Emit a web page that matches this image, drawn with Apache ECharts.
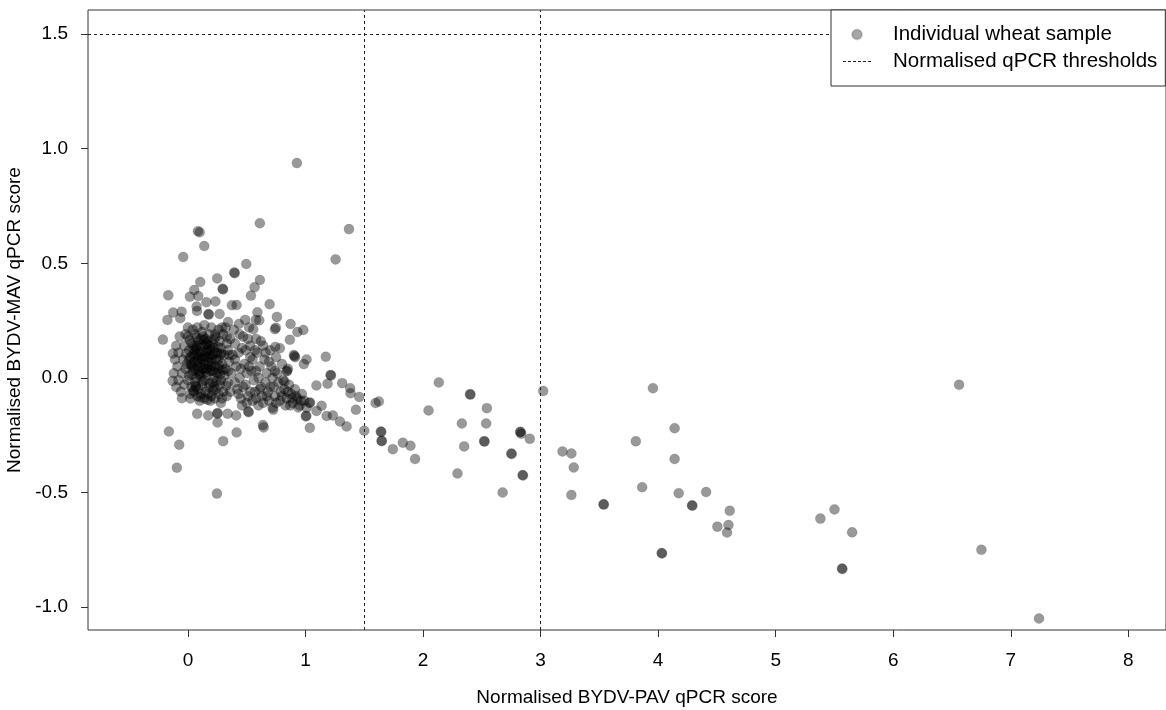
<!DOCTYPE html>
<html><head><meta charset="utf-8">
<script src="https://cdn.jsdelivr.net/npm/echarts@6/dist/echarts.min.js"></script>
<style>html,body{margin:0;padding:0;background:#fff}#c{width:1166px;height:710px}</style>
</head><body><div id="c"></div>
<script>
// [PAV score, MAV score] — dense core of the cluster
const coreSamples = [
[0.00,0.18],[0.03,0.15],[0.06,0.19],[0.09,0.16],[0.12,0.20],[0.15,0.17],[0.18,0.19],[0.21,0.15],[0.24,0.18],[0.27,0.16],[0.30,0.19],[0.33,0.15],
[-0.03,0.14],[0.01,0.12],[0.04,0.10],[0.07,0.13],[0.10,0.11],[0.13,0.14],[0.16,0.12],[0.19,0.10],[0.22,0.13],[0.25,0.11],[0.28,0.13],[0.31,0.10],[0.34,0.12],
[-0.04,0.08],[-0.01,0.06],[0.02,0.09],[0.05,0.07],[0.08,0.05],[0.11,0.08],[0.14,0.06],[0.17,0.09],[0.20,0.07],[0.23,0.05],[0.26,0.08],[0.29,0.06],[0.32,0.04],[0.35,0.07],
[-0.05,0.02],[-0.02,0.04],[0.01,0.01],[0.04,0.03],[0.07,0.00],[0.10,0.02],[0.13,0.04],[0.16,0.01],[0.19,0.03],[0.22,0.00],[0.25,0.02],[0.28,-0.01],[0.31,0.01],[0.34,-0.02],
[-0.03,-0.03],[0.00,-0.01],[0.03,-0.04],[0.06,-0.02],[0.09,-0.05],[0.12,-0.03],[0.15,-0.06],[0.18,-0.04],[0.21,-0.02],[0.24,-0.05],[0.27,-0.03],[0.30,-0.06],
[0.02,-0.07],[0.05,-0.06],[0.08,-0.08],[0.11,-0.07],[0.14,-0.09],[0.17,-0.07],[0.20,-0.08],[0.23,-0.09],[0.26,-0.07],[0.29,-0.09],
[0.015,0.165],[0.045,0.125],[0.075,0.175],[0.105,0.135],[0.135,0.165],[0.165,0.145],[0.195,0.125],[0.225,0.17],[0.255,0.135],[0.285,0.105],
[0.025,0.055],[0.055,0.095],[0.085,0.075],[0.115,0.045],[0.145,0.095],[0.175,0.055],[0.205,0.085],[0.235,0.025],[0.265,0.055],[0.295,0.035],
[0.035,0.015],[0.065,-0.035],[0.095,0.015],[0.125,-0.015],[0.155,0.025],[0.185,-0.025],[0.215,-0.055],[0.245,-0.015],[0.275,0.015],[0.325,-0.035],
[-0.015,0.105],[0.045,-0.055],[0.105,-0.085],[0.165,-0.095],
[0.00,0.22],[0.08,0.22],[0.14,0.23],[0.20,0.22],[0.26,0.21],[0.32,0.22],
[-0.07,0.18],[-0.08,0.11],[-0.09,0.05],[-0.08,-0.01],[-0.06,-0.06],
[0.36,0.17],[0.38,0.10],[0.37,0.02],[0.36,-0.06],
[0.10,0.065],[0.12,0.115],[0.07,0.105],[0.18,0.115],[0.15,0.04],[0.05,0.14],
[-0.10,0.14],[-0.11,0.08],[-0.12,0.02],[-0.10,-0.04],[-0.02,0.19],[0.04,0.21],[0.11,0.17],[0.17,0.16],[0.23,0.19],[0.29,0.22],
[0.33,0.18],[0.35,0.10],[0.34,0.03],[0.33,-0.08],[0.02,-0.09],[0.10,-0.10],[0.19,-0.10],[0.28,-0.11],[0.06,0.04],[0.13,0.08],
[0.21,0.03],[0.27,0.10],[0.09,0.09],[0.16,0.15],[0.03,0.06],
[0.06,0.12],[0.09,0.03],[0.12,0.09],[0.15,0.11],[0.18,0.07],[0.21,0.10],[0.24,0.08],[0.08,0.14],[0.11,0.01],[0.14,-0.01],
[0.17,0.04],[0.20,0.05],[0.23,0.11],[0.04,0.05],[0.01,0.08],[0.26,0.04],[0.13,0.18],[0.19,0.14],[0.07,-0.04],[0.22,-0.04]
];
// band running to the lower right of the core
const bandSamples = [
[0.40,0.15],[0.43,0.11],[0.41,0.05],[0.44,0.00],[0.42,-0.05],[0.45,-0.09],
[0.47,0.18],[0.49,0.12],[0.48,0.06],[0.50,0.02],[0.49,-0.03],[0.51,-0.08],
[0.53,0.14],[0.55,0.08],[0.54,0.03],[0.56,-0.01],[0.57,-0.06],[0.55,-0.10],
[0.59,0.11],[0.61,0.05],[0.60,0.00],[0.62,-0.04],[0.63,-0.08],
[0.65,0.08],[0.67,0.02],[0.66,-0.02],[0.68,-0.06],[0.69,-0.10],
[0.71,0.05],[0.72,0.00],[0.73,-0.04],[0.74,-0.08],
[0.76,0.02],[0.77,-0.02],[0.79,-0.06],[0.78,-0.10],
[0.81,-0.01],[0.82,-0.05],[0.84,-0.09],[0.83,-0.12],
[0.86,-0.03],[0.88,-0.07],[0.89,-0.11],
[0.91,-0.05],[0.93,-0.09],[0.95,-0.12],
[0.97,-0.07],[0.99,-0.10],[1.01,-0.13],
[0.58,0.17],[0.64,0.14],[0.70,0.12],[0.75,0.09],[0.80,0.06],[0.85,0.04],
[0.46,-0.12],[0.60,-0.12],[0.72,-0.13],[0.52,0.22],
[0.39,0.21],[0.44,0.19],[0.46,0.13],[0.51,0.17],[0.53,0.09],[0.57,0.12],[0.62,0.16],[0.66,0.11],[0.69,0.07],[0.74,0.03],
[0.40,-0.02],[0.43,-0.07],[0.47,-0.04],[0.50,-0.11],[0.53,-0.06],[0.58,-0.09],[0.61,-0.05],[0.64,-0.11],[0.67,-0.08],[0.70,-0.04],
[0.75,-0.11],[0.80,-0.08],[0.85,-0.06],[0.87,-0.12],[0.92,-0.08],[0.96,-0.10],[0.40,0.08],[0.45,0.04],[0.52,0.05],[0.58,0.03]
];
// scattered samples around the cluster
const spreadSamples = [
[0.839,0.028],[0.845,0.031],[0.822,-0.016],[0.887,-0.089],[0.939,-0.129],[1.003,-0.168],[1.007,-0.165],[1.034,-0.110],[1.038,-0.107],
[1.037,-0.218],[1.094,-0.144],[1.137,-0.122],[1.093,-0.033],[1.188,-0.026],[1.233,-0.164],[1.180,-0.166],[1.293,-0.190],[1.350,-0.212],
[1.500,-0.231],[1.429,-0.139],[1.457,-0.083],[1.380,-0.045],[1.383,-0.067],[1.312,-0.023],[1.213,0.013],[1.217,0.010],[1.173,0.092],
[1.009,0.080],[0.986,0.060],[0.901,0.100],[0.912,0.090],[0.906,0.095],[0.743,0.135],[0.782,0.129],[0.867,0.166],[0.931,0.200],[0.982,0.209],
[0.740,0.212],[0.748,0.219],[0.556,0.212],[0.873,0.235],[0.757,0.266],[0.578,0.253],[0.607,0.251],[0.487,0.253],[0.341,0.244],[0.434,0.235],
[0.269,0.279],[0.174,0.279],[0.178,0.276],[0.591,0.286],[0.077,0.292],[-0.054,0.289],[-0.125,0.285],[-0.065,0.260],[-0.174,0.253],[0.074,0.311],
[0.695,0.321],[0.374,0.317],[0.414,0.318],[0.157,0.330],[0.234,0.333],[0.536,0.359],[0.088,0.357],[0.017,0.354],[-0.167,0.360],[0.054,0.383],
[0.567,0.395],[0.295,0.389],[0.299,0.386],[0.105,0.418],[0.612,0.427],[0.249,0.434],[0.394,0.460],[0.398,0.457],[0.496,0.497],[-0.040,0.527],
[0.139,0.575],[1.256,0.517],[0.927,0.937],[1.370,0.649],[0.612,0.675],[0.085,0.640],[0.100,0.635],
[0.726,-0.139],[0.638,-0.206],[0.644,-0.216],[0.513,-0.147],[0.517,-0.150],[0.411,-0.164],[0.338,-0.156],[0.249,-0.156],[0.253,-0.153],
[0.252,-0.195],[0.173,-0.164],[0.079,-0.157],[0.414,-0.238],[0.300,-0.276],[-0.074,-0.292],[-0.162,-0.234],[-0.094,-0.392],[0.247,-0.505],
[-0.130,-0.013],[-0.051,-0.089],[-0.213,0.167],[-0.128,0.106]
];
// samples beyond the 1.5 PAV threshold
const highPavSamples = [
[1.596,-0.110],[1.624,-0.103],[1.641,-0.234],[1.645,-0.236],[1.647,-0.274],[1.650,-0.276],[1.743,-0.311],[1.828,-0.283],[1.893,-0.296],[1.932,-0.354],
[2.047,-0.142],[2.134,-0.020],[2.293,-0.417],[2.330,-0.199],[2.350,-0.299],[2.400,-0.071],[2.403,-0.073],[2.520,-0.276],[2.523,-0.278],[2.537,-0.199],
[2.543,-0.132],[2.677,-0.500],[2.751,-0.330],[2.754,-0.332],[2.826,-0.237],[2.829,-0.235],[2.836,-0.244],[2.847,-0.424],[2.850,-0.426],[2.908,-0.266],
[3.022,-0.057],[3.186,-0.321],[3.262,-0.330],[3.282,-0.391],[3.262,-0.511],[3.535,-0.551],[3.538,-0.553],[3.810,-0.277],[3.864,-0.477],[3.956,-0.045],
[4.030,-0.764],[4.033,-0.766],[4.140,-0.220],[4.140,-0.354],[4.175,-0.503],[4.288,-0.556],[4.291,-0.558],[4.408,-0.498],[4.504,-0.649],[4.598,-0.642],
[4.586,-0.675],[4.609,-0.580],[5.380,-0.614],[5.500,-0.574],[5.564,-0.832],[5.567,-0.834],[5.650,-0.674],[6.560,-0.030],[6.750,-0.750],[7.240,-1.050]
];
const xTicks = [0,1,2,3,4,5,6,7,8];
const yTicks = [-1.0,-0.5,0.0,0.5,1.0,1.5];
const pavThresholds = [1.5, 3.0];
const mavThresholds = [1.5];
const xTitle = 'Normalised BYDV-PAV qPCR score';
const yTitle = 'Normalised BYDV-MAV qPCR score';
const sampleName = 'Individual wheat sample';
const thresholdName = 'Normalised qPCR thresholds';

const FONT = '"Liberation Sans", Arial, sans-serif';
const samples = coreSamples.concat(bandSamples, spreadSamples, highPavSamples);
const dash = { color: '#222', width: 1, type: [3, 3] };
const dashIcon = 'path://M0,0h3v1h-3zM5,0h3v1h-3zM10,0h3v1h-3zM15,0h3v1h-3zM20,0h3v1h-3zM25,0h3v1h-3z';

const chart = echarts.init(document.getElementById('c'), null, { renderer: 'canvas' });
chart.setOption({
  backgroundColor: '#fff',
  animation: false,
  textStyle: { fontFamily: FONT },
  grid: { left: 88, right: 0, top: 10, bottom: 80, outerBoundsMode: 'none', containLabel: false,
    show: true, borderColor: '#333', borderWidth: 1, backgroundColor: 'transparent' },
  xAxis: {
    type: 'value', min: -0.85, max: 8.32,
    axisLine: { show: false, onZero: false }, splitLine: { show: false },
    axisTick: { show: true, length: 7, customValues: xTicks, lineStyle: { color: '#333', width: 1 } },
    axisLabel: { customValues: xTicks, fontSize: 19, color: '#000', margin: 21, fontFamily: FONT },
    name: xTitle, nameLocation: 'middle', nameGap: 58,
    nameTextStyle: { fontSize: 19, color: '#000', fontFamily: FONT }
  },
  yAxis: {
    type: 'value', min: -1.1, max: 1.605,
    axisLine: { show: false, onZero: false }, splitLine: { show: false },
    axisTick: { show: true, length: 7, customValues: yTicks, lineStyle: { color: '#333', width: 1 } },
    axisLabel: { customValues: yTicks, fontSize: 19, color: '#000', margin: 20, fontFamily: FONT,
      formatter: v => Number(v).toFixed(1) },
    name: yTitle, nameLocation: 'middle', nameGap: 51,
    nameTextStyle: { fontSize: 19, color: '#000', fontFamily: FONT }
  },
  legend: {
    orient: 'vertical', left: 831, top: 10,
    backgroundColor: '#fff', borderColor: '#333', borderWidth: 1,
    padding: [14, 8, 14, 12], itemGap: 6, itemWidth: 28, itemHeight: 10,
    textStyle: { fontSize: 20.5, color: '#000', fontFamily: FONT, lineHeight: 20, padding: [0, 0, 0, 17] },
    data: [
      { name: sampleName, icon: 'circle', itemStyle: { color: 'rgba(0,0,0,0.35)' } },
      { name: thresholdName, icon: dashIcon, itemStyle: { color: '#222', borderWidth: 0 } }
    ],
    z: 20
  },
  series: [
    {
      type: 'scatter', name: sampleName, data: samples, symbolSize: 10,
      itemStyle: { color: 'rgba(0,0,0,0.4)', borderColor: 'rgba(0,0,0,0.15)', borderWidth: 0.8, opacity: 1 },
      z: 2
    },
    {
      type: 'line', name: thresholdName, data: [], symbol: 'none',
      lineStyle: dash, itemStyle: { color: '#222' },
      markLine: {
        silent: true, symbol: ['none', 'none'], animation: false,
        label: { show: false }, lineStyle: dash,
        data: pavThresholds.map(v => ({ xAxis: v })).concat(mavThresholds.map(v => ({ yAxis: v })))
      },
      z: 3
    }
  ]
});
</script></body></html>
